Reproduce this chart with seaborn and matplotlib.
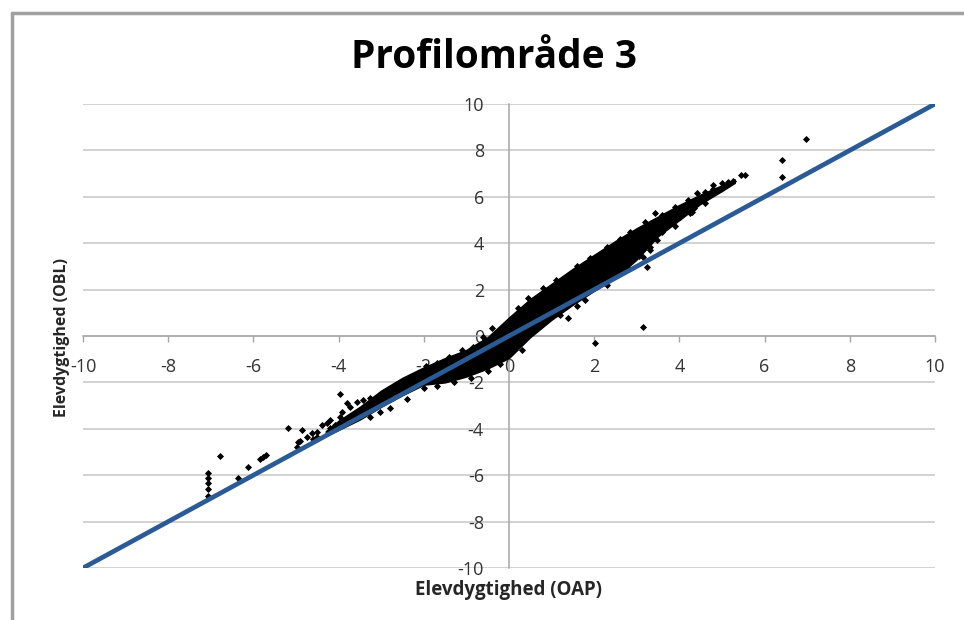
import matplotlib
matplotlib.use("Agg")
import matplotlib.pyplot as plt
import seaborn as sns
import pandas as pd
from matplotlib.lines import Line2D

# ---------------- data ----------------
title = "Profilområde 3"
x_label = "Elevdygtighed (OAP)"
y_label = "Elevdygtighed (OBL)"
tick_values = [-10, -8, -6, -4, -2, 0, 2, 4, 6, 8, 10]

# dense core of the point cloud: lower / upper envelope
band_x = [-4.3, -4.0, -3.5, -3.0, -2.5, -2.0, -1.5, -1.0, -0.5, 0.0, 0.25, 0.5,
          1.0, 1.5, 2.0, 2.5, 3.0, 3.5, 4.0, 4.5, 5.0, 5.3]
band_lo = [-4.3, -4.05, -3.6, -3.05, -2.55, -2.1, -2.0, -1.75, -1.4, -0.95, -0.5, -0.05,
           0.7, 1.35, 1.95, 2.5, 3.3, 4.3, 5.0, 5.7, 6.25, 6.6]
band_hi = [-4.1, -3.65, -3.05, -2.35, -1.8, -1.35, -0.95, -0.6, -0.05, 0.8, 1.2, 1.6,
           2.25, 2.9, 3.5, 4.1, 4.65, 5.15, 5.65, 6.1, 6.5, 6.75]

# individual points (edges of the cloud and outliers)
pts_x = [0.2, 0.45, 0.8, 1.1, 1.6, 1.9, 2.3, 2.6, 2.85, 3.2, 3.6, 3.9, 4.2, 4.6, 4.8,
         1.2, 1.6, 2.3, 2.8, 3.05, 3.3, 3.6, 3.9, 4.25, 4.6, 4.35,
         -3.92, -3.8, -3.73, -3.57, -3.43, -3.26, -3.1, -2.96, -2.7, -2.45, -2.2,
         -1.95, -1.7, -1.4, -1.1, -0.84, -0.92, -0.6, -0.4,
         -3.26, -3.03, -2.79, -2.4, -2.0, -1.7, -1.3, -0.9, -0.5, -0.2, 0.3,
         -3.97, -5.19, -4.86, -4.9, -4.74, -4.62, -4.51, -4.39, -4.27, -4.2, -3.97,
         -4.08, -4.2, -4.98, -4.95, -6.78, -5.85, -5.77, -5.7, -6.13, -6.36,
         -7.07, -7.07, -7.07, -7.07, -7.07, -4.5, -4.6,
         6.97, 6.41, 6.41, 5.54, 5.45, 5.0, 5.14, 5.26, 4.79, 4.41, 4.3, 4.01,
         3.43, 3.47, 3.31, 3.15, 3.24, 3.15, 2.02, 1.39, 1.78]
pts_y = [1.2, 1.65, 2.05, 2.4, 3.0, 3.35, 3.85, 4.2, 4.5, 4.9, 5.2, 5.55, 5.85, 6.2, 6.35,
         0.9, 1.3, 2.2, 2.95, 3.45, 3.85, 4.5, 4.75, 5.3, 5.75, 5.5,
         -3.28, -2.89, -3.06, -2.84, -2.76, -2.67, -2.67, -2.63, -2.2, -1.95, -1.7,
         -1.3, -1.15, -0.9, -0.6, -0.47, -0.6, -0.05, 0.35,
         -3.49, -3.28, -3.1, -2.7, -2.25, -2.15, -2.0, -1.8, -1.5, -1.2, -0.6,
         -2.5, -3.97, -4.05, -4.53, -4.35, -4.18, -4.14, -3.84, -3.75, -3.62, -3.49,
         -3.84, -3.97, -4.8, -4.55, -5.17, -5.3, -5.2, -5.12, -5.65, -6.1,
         -5.9, -6.1, -6.35, -6.6, -6.9, -4.35, -4.45,
         8.5, 7.6, 6.85, 6.94, 6.92, 6.6, 6.64, 6.68, 6.5, 6.16, 5.35, 5.13,
         5.3, 4.14, 3.7, 3.4, 2.97, 0.39, -0.3, 0.78, 1.55]

# reference line y = x
line_x = [-10, 10]
line_y = [-10, 10]

# ---------------- figure ----------------
sns.set_theme(style="white")
plt.rcParams["font.family"] = ["Open Sans", "DejaVu Sans"]

fig = plt.figure(figsize=(9.64, 6.2), dpi=100)
ax = fig.add_axes([0.0861, 0.0839, 0.8838, 0.7484])
ax.set_facecolor("white")

grid_c = "#c6c6c6"
axis_c = "#a6a6a6"
for v in tick_values:
    ax.axhline(v, color=grid_c, lw=1.1, zorder=0)

ax.fill_between(band_x, band_lo, band_hi, color="black", lw=1.0,
                edgecolor="black", zorder=2)
pts = pd.DataFrame({"x": pts_x, "y": pts_y})
sns.scatterplot(data=pts, x="x", y="y", ax=ax, color="black", marker="D",
                s=9, linewidth=0.6, edgecolor="black", zorder=3, legend=False)
line_df = pd.DataFrame({"x": line_x, "y": line_y})
sns.lineplot(data=line_df, x="x", y="y", ax=ax, color="#2b5b95", lw=3.4,
             zorder=4, legend=False)

ax.set_xlim(-10, 10)
ax.set_ylim(-10, 10)
ax.set_xticks(tick_values)
ax.set_yticks(tick_values)
ax.set_xticklabels([str(v) for v in tick_values])
ax.set_yticklabels([str(v) for v in tick_values])

for s in ["top", "right"]:
    ax.spines[s].set_visible(False)
ax.spines["bottom"].set_position(("data", 0))
ax.spines["left"].set_position(("data", 0))
for s in ["bottom", "left"]:
    ax.spines[s].set_color(axis_c)
    ax.spines[s].set_linewidth(1.1)
    ax.spines[s].set_zorder(1)

ax.tick_params(axis="x", direction="out", length=4, width=1, color=axis_c,
               pad=12, labelsize=13, labelcolor="#333333", bottom=True)
ax.tick_params(axis="y", direction="out", length=0, width=1, color=axis_c,
               pad=18, labelsize=13, labelcolor="#333333", left=True)
ax.set_xlabel("")
ax.set_ylabel("")

fig.text(0.512, 0.908, title, ha="center", va="center", fontsize=28,
         fontweight="bold", color="black")
fig.text(0.528, 0.049, x_label, ha="center", va="center", fontsize=13.5,
         fontweight="bold", color="#262626")
fig.text(0.064, 0.456, y_label, ha="center", va="center", fontsize=11.5,
         fontweight="bold", color="#262626", rotation=90)

# chart frame (left and top border of the chart object)
fig.add_artist(Line2D([0.0125, 0.0125], [0.0, 0.979], transform=fig.transFigure,
                      color="#a0a0a0", lw=2.5))
fig.add_artist(Line2D([0.0125, 1.0], [0.979, 0.979], transform=fig.transFigure,
                      color="#a0a0a0", lw=2.5))

fig.savefig("out.png", dpi=100)
